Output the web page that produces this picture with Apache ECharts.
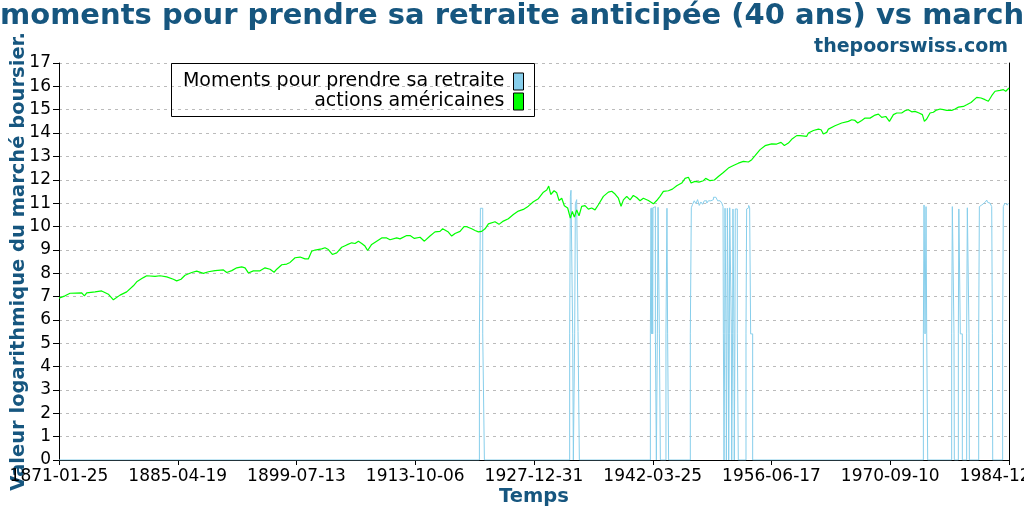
<!DOCTYPE html>
<html>
<head>
<meta charset="utf-8">
<script src="https://cdn.jsdelivr.net/npm/echarts@6.0.0/dist/echarts.min.js"></script>
<style>
    html, body { margin: 0; padding: 0; background: #fff; }
    #chart { width: 1024px; height: 512px; }
</style>
</head>
<body>
<div id="chart"></div>
<script>
// axis: days counted from 1871-01-25, one tick every ~5198 days
var axisStartUTC = Date.UTC(1871, 0, 25);
var tickDays = 5198.14;
var tickCount = 8;

var seriesNames = ["Moments pour prendre sa retraite", "actions américaines"];

// [year, valeur log] - moments (0 quand ce n'est pas le moment)
var moments = [
    [1871.07, 0],
    [1921.45, 5.4], [1921.57, 10.78], [1921.85, 5.4], [1922.05, 0],
    [1932.27, 5.4], [1932.35, 11.3], [1932.43, 11.55], [1932.63, 5.4], [1932.71, 0],
    [1932.87, 5.4], [1932.95, 10.97], [1933.11, 11.15], [1933.27, 5.5], [1933.43, 0],
    [1941.94, 5.4], [1942.02, 10.78], [1942.10, 5.4], [1942.14, 10.8], [1942.22, 5.4], [1942.26, 10.8],
    [1942.38, 10.85], [1942.54, 5.4], [1942.66, 0],
    [1942.78, 5.4], [1942.86, 10.82], [1943.02, 5.4], [1943.14, 0],
    [1943.81, 5.4], [1943.93, 10.78], [1944.01, 5.4], [1944.13, 0],
    [1946.73, 5.4], [1946.85, 10.8], [1947.0, 10.95], [1947.2, 11.1], [1947.4, 10.98], [1947.6, 11.15],
    [1947.8, 10.9], [1948.0, 11.05], [1948.2, 10.95], [1948.4, 11.1], [1948.7, 11.0], [1948.9, 11.1],
    [1949.2, 11.15], [1949.5, 11.25], [1949.8, 11.25], [1950.0, 11.1], [1950.3, 11.1], [1950.5, 11.0],
    [1950.65, 10.85], [1950.69, 5.4], [1950.77, 0],
    [1950.85, 5.4], [1950.89, 10.78], [1951.01, 5.4], [1951.05, 0],
    [1951.13, 5.4], [1951.17, 10.78], [1951.29, 5.4], [1951.33, 0],
    [1951.41, 5.4], [1951.45, 10.8], [1951.65, 5.4], [1951.69, 0],
    [1951.80, 5.4], [1951.84, 10.75], [1951.96, 5.4], [1952.0, 0],
    [1952.08, 5.4], [1952.12, 10.75], [1952.36, 5.4], [1952.48, 0],
    [1953.40, 5.4], [1953.48, 10.75], [1953.6, 10.8], [1953.72, 10.9], [1953.84, 10.8], [1953.96, 5.4], [1954.20, 0],
    [1974.66, 5.4], [1974.74, 10.92], [1974.86, 5.4], [1974.98, 10.85], [1975.06, 5.4], [1975.18, 0],
    [1978.05, 5.4], [1978.13, 10.85], [1978.33, 5.4], [1978.37, 0],
    [1978.85, 5.4], [1978.91, 10.75], [1979.09, 5.4], [1979.33, 0],
    [1979.85, 5.4], [1979.93, 10.8], [1980.13, 5.4], [1980.17, 0],
    [1981.29, 5.4], [1981.37, 10.85], [1981.53, 10.92], [1981.65, 11.0], [1981.85, 11.03], [1982.05, 11.07],
    [1982.25, 11.13], [1982.37, 11.03], [1982.53, 11.0], [1982.65, 10.92], [1982.85, 10.85], [1982.93, 5.4], [1982.97, 0],
    [1984.16, 5.4], [1984.24, 10.85], [1984.32, 10.92], [1984.44, 11.0], [1984.56, 10.92], [1984.72, 10.95],
    [1984.85, 11.0], [1984.93, 10.95]
];

// [year, valeur log] - actions américaines
var market = [
    [1871.07, 6.93], [1871.79, 7.03], [1872.39, 7.14], [1873.79, 7.16], [1874.11, 7.03], [1874.39, 7.16],
    [1875.39, 7.2], [1876.18, 7.24], [1876.98, 7.1], [1877.58, 6.86], [1878.38, 7.06], [1879.18, 7.2],
    [1879.98, 7.46], [1880.38, 7.63], [1881.18, 7.81], [1881.58, 7.89], [1882.58, 7.86], [1883.18, 7.89],
    [1883.98, 7.84], [1884.77, 7.74], [1885.17, 7.67], [1885.69, 7.74], [1886.17, 7.91], [1886.97, 8.03],
    [1887.57, 8.09], [1888.37, 7.99], [1888.97, 8.06], [1889.77, 8.11], [1890.77, 8.14], [1891.17, 8.03],
    [1891.77, 8.11], [1892.37, 8.23], [1892.96, 8.27], [1893.36, 8.23], [1893.76, 8.01], [1894.36, 8.1],
    [1895.16, 8.1], [1895.76, 8.23], [1896.36, 8.17], [1896.84, 8.04], [1897.16, 8.17], [1897.76, 8.36],
    [1898.36, 8.39], [1898.76, 8.46], [1899.36, 8.66], [1899.96, 8.69], [1900.55, 8.61], [1900.95, 8.61],
    [1901.35, 8.94], [1901.75, 8.99], [1902.55, 9.04], [1902.95, 9.09], [1903.35, 9.01], [1903.83, 8.8],
    [1904.35, 8.87], [1904.95, 9.11], [1905.55, 9.21], [1906.15, 9.3], [1906.55, 9.27], [1906.95, 9.37],
    [1907.35, 9.27], [1907.74, 9.16], [1908.06, 8.97], [1908.54, 9.23], [1909.14, 9.37], [1909.74, 9.51],
    [1910.34, 9.51], [1910.74, 9.43], [1911.54, 9.51], [1911.94, 9.47], [1912.74, 9.61], [1913.14, 9.61],
    [1913.66, 9.49], [1914.34, 9.54], [1914.86, 9.37], [1915.53, 9.59], [1916.13, 9.77], [1916.73, 9.79],
    [1917.05, 9.9], [1917.73, 9.76], [1918.13, 9.59], [1918.53, 9.7], [1919.13, 9.79], [1919.61, 9.99],
    [1919.93, 9.99], [1920.53, 9.9], [1920.93, 9.83], [1921.33, 9.77], [1921.73, 9.79], [1922.13, 9.9],
    [1922.53, 10.11], [1923.32, 10.2], [1923.80, 10.09], [1924.32, 10.23], [1924.92, 10.33], [1925.52, 10.51],
    [1926.12, 10.66], [1926.72, 10.73], [1927.32, 10.87], [1927.92, 11.06], [1928.52, 11.19], [1929.12, 11.47],
    [1929.52, 11.56], [1929.76, 11.73], [1930.0, 11.37], [1930.40, 11.53], [1930.72, 11.44], [1931.0, 11.11],
    [1931.32, 11.21], [1931.63, 10.89], [1932.03, 10.79], [1932.35, 10.36], [1932.59, 10.64], [1932.83, 10.4],
    [1933.11, 10.71], [1933.39, 10.46], [1933.71, 10.86], [1934.11, 10.89], [1934.51, 10.74], [1934.91, 10.79],
    [1935.31, 10.71], [1935.71, 10.93], [1936.31, 11.29], [1936.91, 11.47], [1937.31, 11.51], [1937.71, 11.39],
    [1938.11, 11.21], [1938.43, 10.86], [1938.71, 11.14], [1939.11, 11.29], [1939.51, 11.14], [1939.90, 11.33],
    [1940.30, 11.24], [1940.70, 11.1], [1941.10, 11.21], [1941.70, 11.11], [1942.30, 10.97], [1942.70, 11.11],
    [1943.10, 11.29], [1943.50, 11.5], [1944.10, 11.53], [1944.58, 11.6], [1945.10, 11.74], [1945.70, 11.86],
    [1946.10, 12.06], [1946.50, 12.11], [1946.82, 11.86], [1947.29, 11.93], [1947.77, 11.9], [1948.29, 11.96],
    [1948.57, 12.06], [1949.09, 11.96], [1949.61, 11.99], [1950.09, 12.14], [1950.69, 12.31], [1951.29, 12.5],
    [1951.89, 12.61], [1952.49, 12.71], [1953.09, 12.79], [1953.69, 12.76], [1954.09, 12.86], [1954.49, 13.03],
    [1955.09, 13.29], [1955.69, 13.46], [1956.48, 13.54], [1957.08, 13.53], [1957.60, 13.6], [1958.00, 13.47],
    [1958.48, 13.57], [1958.96, 13.76], [1959.48, 13.89], [1959.88, 13.89], [1960.08, 13.9], [1960.68, 13.86],
    [1960.88, 14.0], [1961.48, 14.11], [1962.08, 14.17], [1962.40, 14.14], [1962.68, 13.96], [1963.08, 14.03],
    [1963.28, 14.17], [1964.07, 14.31], [1964.87, 14.43], [1965.67, 14.5], [1966.07, 14.57], [1966.47, 14.54],
    [1966.79, 14.43], [1967.27, 14.54], [1967.67, 14.64], [1968.27, 14.64], [1968.87, 14.77], [1969.27, 14.81],
    [1969.67, 14.67], [1970.15, 14.71], [1970.59, 14.5], [1971.07, 14.79], [1971.47, 14.86], [1972.06, 14.86],
    [1972.46, 14.96], [1972.86, 15.0], [1973.26, 14.91], [1973.66, 14.93], [1974.14, 14.86], [1974.54, 14.79],
    [1974.78, 14.5], [1975.06, 14.6], [1975.46, 14.86], [1975.86, 14.89], [1976.14, 14.97], [1976.66, 15.03],
    [1977.06, 15.0], [1977.46, 14.97], [1978.06, 14.97], [1978.46, 15.03], [1978.86, 15.11], [1979.46, 15.14],
    [1979.85, 15.21], [1980.37, 15.31], [1981.05, 15.53], [1981.57, 15.5], [1982.05, 15.43], [1982.45, 15.36],
    [1982.85, 15.6], [1983.25, 15.79], [1983.85, 15.83], [1984.25, 15.86], [1984.53, 15.79], [1984.93, 15.93]
];

var titleColor = "#16567f";

function toDays(year) {
    var y = Math.floor(year);
    var t0 = Date.UTC(y, 0, 1);
    var t1 = Date.UTC(y + 1, 0, 1);
    return (t0 + (year - y) * (t1 - t0) - axisStartUTC) / 86400000;
}

function pad(n) {
    return n < 10 ? "0" + n : "" + n;
}

function dayLabel(v) {
    var d = new Date(axisStartUTC + Math.floor(v + 0.5) * 86400000);
    return d.getUTCFullYear() + "-" + pad(d.getUTCMonth() + 1) + "-" + pad(d.getUTCDate());
}

var chart = echarts.init(document.getElementById("chart"), null, {renderer: "canvas"});

var option = {
    animation: false,
    backgroundColor: "#fff",
    textStyle: {fontFamily: "DejaVu Sans"},
    title: [
        {
            text: "moments pour prendre sa retraite anticipée (40 ans) vs marché",
            left: 0,
            top: 2,
            padding: 0,
            textStyle: {fontSize: 29, fontWeight: "bold", color: titleColor, fontFamily: "DejaVu Sans"}
        },
        {
            text: "thepoorswiss.com",
            right: 16,
            top: 38,
            padding: 0,
            textStyle: {fontSize: 19, fontWeight: "bold", color: titleColor, fontFamily: "DejaVu Sans"}
        }
    ],
    legend: [
        {
            data: [seriesNames[0]],
            right: 500, top: 72, padding: 0,
            align: "right", icon: "rect", itemWidth: 10, itemHeight: 17,
            textStyle: {fontSize: 19, color: "#000", padding: [0, 4, 0, 0]},
            itemStyle: {borderColor: "#000", borderWidth: 1}
        },
        {
            data: [seriesNames[1]],
            right: 500, top: 92, padding: 0,
            align: "right", icon: "rect", itemWidth: 10, itemHeight: 17,
            textStyle: {fontSize: 19, color: "#000", padding: [0, 4, 0, 0]},
            itemStyle: {borderColor: "#000", borderWidth: 1}
        }
    ],
    graphic: [
        {
            type: "rect", z: 100,
            shape: {x: 171.5, y: 63.5, width: 363, height: 53},
            style: {fill: null, stroke: "#000", lineWidth: 1}
        }
    ],
    grid: {left: 59, right: 15, top: 63, bottom: 52, containLabel: false, outerBoundsMode: "none"},
    xAxis: {
        type: "value",
        min: 0,
        max: tickDays * tickCount,
        interval: tickDays,
        name: "Temps",
        nameLocation: "middle",
        nameGap: 27,
        nameMoveOverlap: false,
        nameTextStyle: {fontSize: 19.5, fontWeight: "bold", color: titleColor},
        axisLine: {lineStyle: {color: "#000", width: 1}},
        axisTick: {length: 5, lineStyle: {color: "#000"}},
        axisLabel: {fontSize: 17, color: "#000", margin: 8, formatter: dayLabel},
        splitLine: {show: false}
    },
    yAxis: [
        {
            type: "value",
            min: 0, max: 17, interval: 1,
            name: "Valeur logarithmique du marché boursier.",
            nameLocation: "middle",
            nameGap: 30,
            nameMoveOverlap: false,
            nameTextStyle: {fontSize: 19.5, fontWeight: "bold", color: titleColor},
            axisLine: {show: true, lineStyle: {color: "#000", width: 1}},
            axisTick: {show: true, length: 6, lineStyle: {color: "#000"}},
            axisLabel: {fontSize: 17, color: "#000", margin: 8},
            splitLine: {show: true, lineStyle: {color: "#bbb", width: 1, type: [3, 4]}}
        },
        {
            type: "value",
            position: "right",
            min: 0, max: 17,
            axisLine: {show: true, lineStyle: {color: "#000", width: 1}},
            axisTick: {show: false},
            axisLabel: {show: false},
            splitLine: {show: false}
        }
    ],
    series: [
        {
            name: seriesNames[0],
            type: "line",
            step: "end",
            showSymbol: false,
            color: "#87ceeb",
            lineStyle: {width: 1, color: "#87ceeb"},
            data: moments.map(function (p) { return [toDays(p[0]), p[1]]; })
        },
        {
            name: seriesNames[1],
            type: "line",
            showSymbol: false,
            color: "#00ff00",
            lineStyle: {width: 1.2, color: "#00ff00"},
            data: market.map(function (p) { return [toDays(p[0]), p[1]]; })
        }
    ]
};

chart.setOption(option);
</script>
</body>
</html>
